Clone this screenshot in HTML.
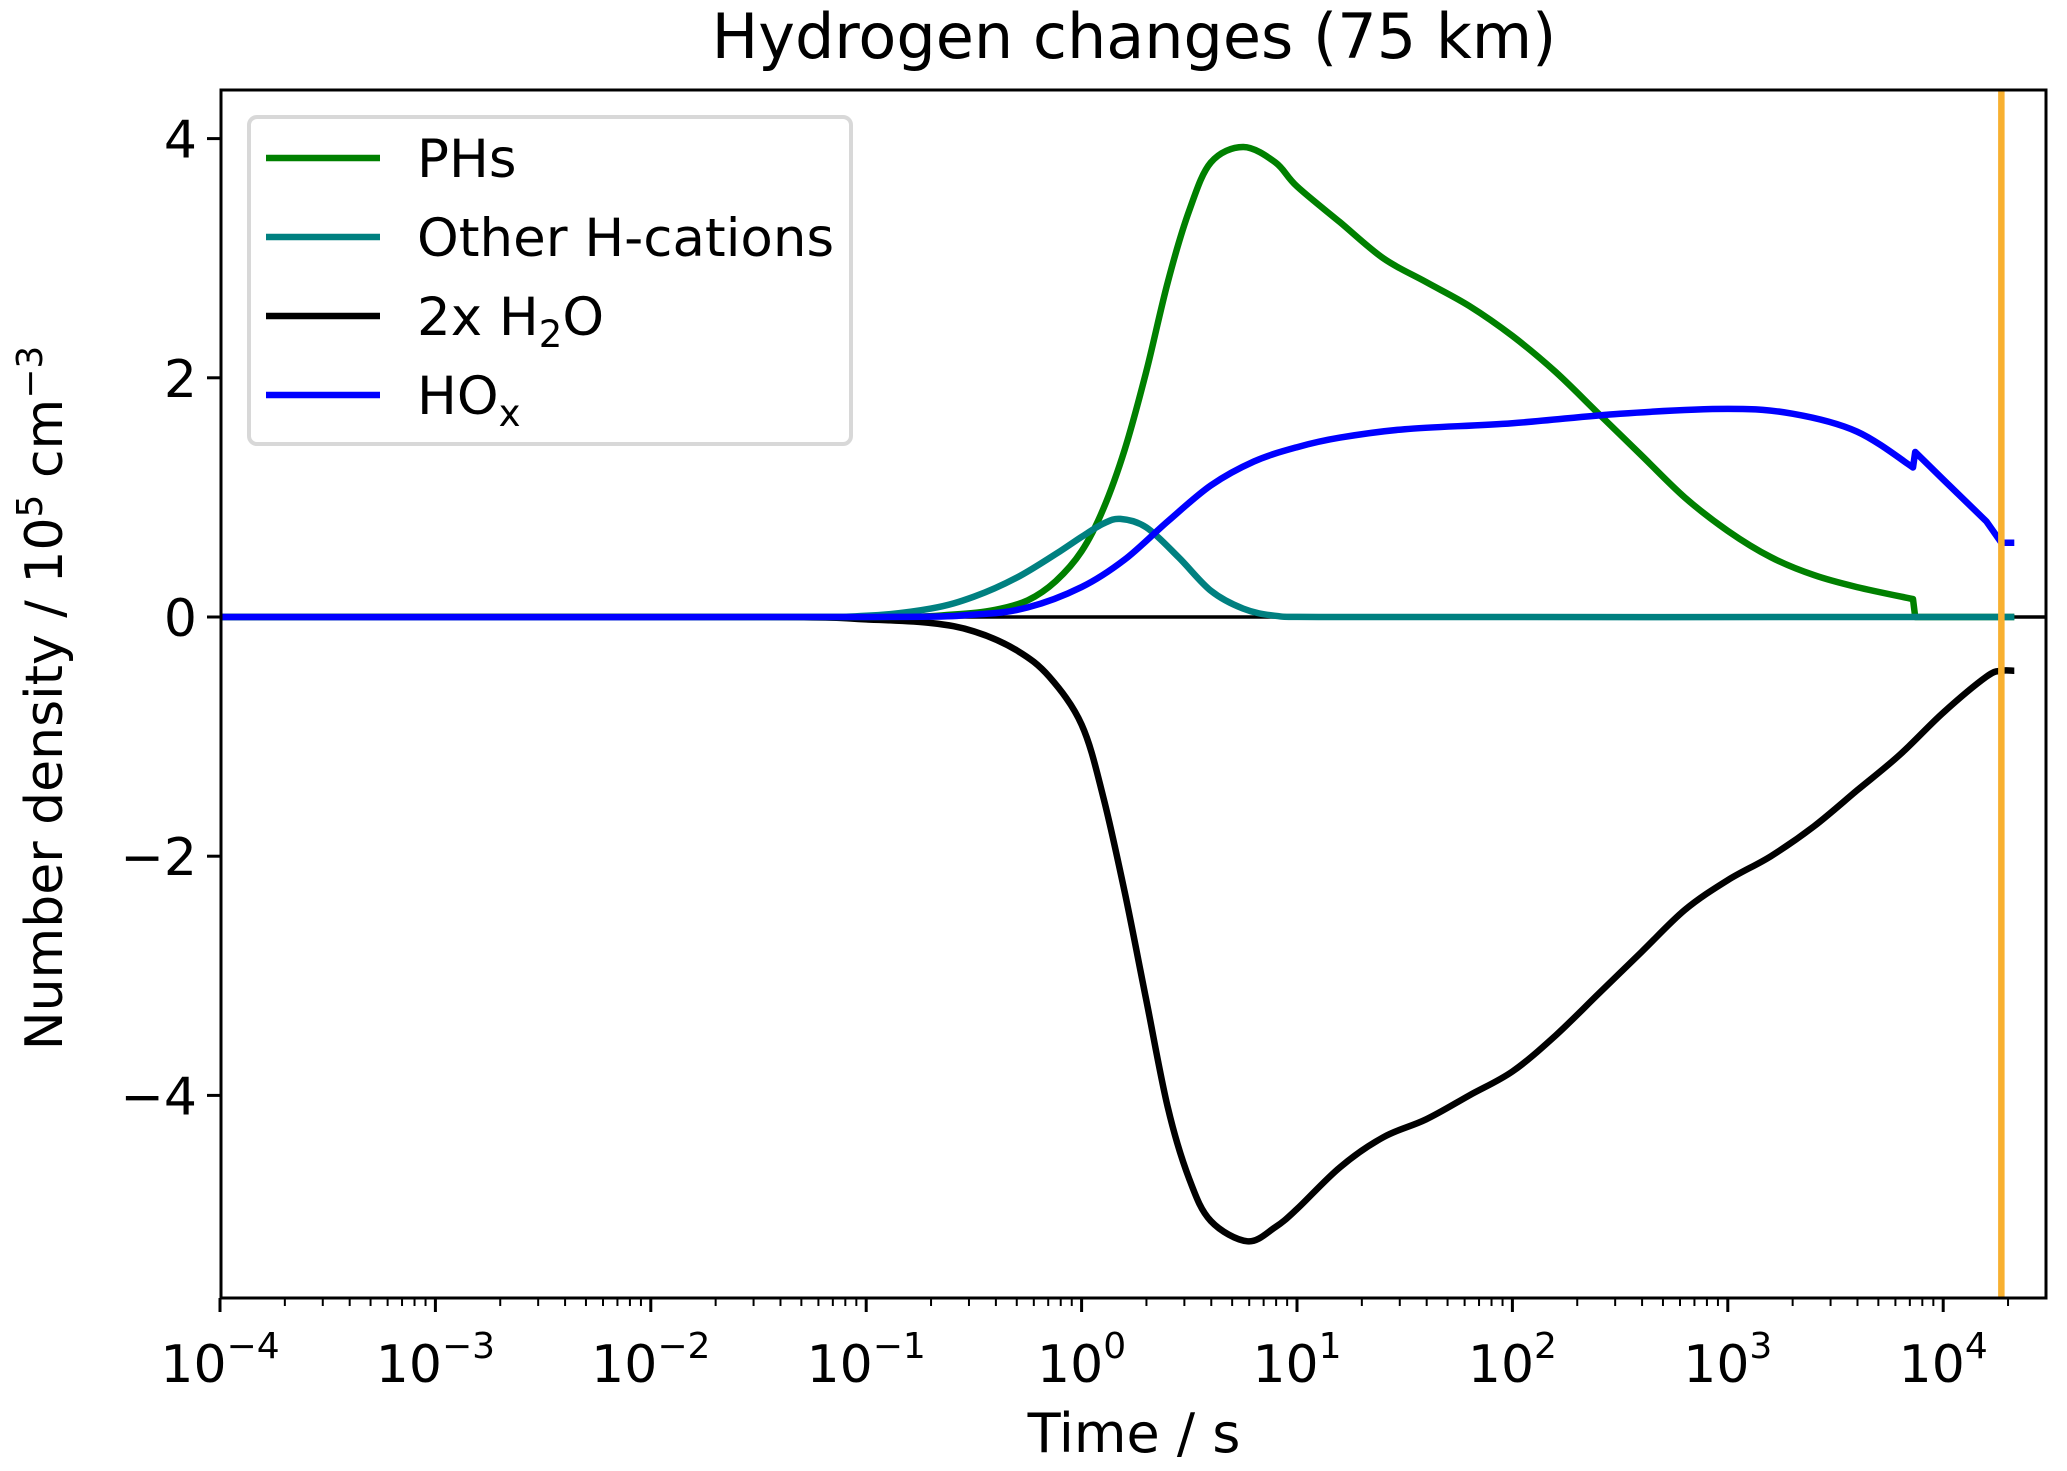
<!DOCTYPE html>
<html><head><meta charset="utf-8"><style>
body{margin:0;background:#fff}
svg{display:block;font-family:"DejaVu Sans","Liberation Sans",sans-serif}
</style></head><body>
<svg id="chart" width="2067" height="1471" viewBox="0 0 2067 1471">
<text x="1134" y="58" text-anchor="middle" font-size="62">Hydrogen changes (75 km)</text>
<g id="ticks"></g>
<g id="series"></g>
<rect x="221" y="90" width="1825" height="1208" fill="none" stroke="#000" stroke-width="3"/>
<text x="1134" y="1452" text-anchor="middle" font-size="54">Time / s</text>
<text transform="translate(62,698) rotate(-90)" text-anchor="middle" font-size="52">Number density / 10<tspan dy="-20" font-size="36">5</tspan><tspan dy="20"> cm</tspan><tspan dy="-20" font-size="36">−3</tspan></text>
<g>
<rect x="249" y="117" width="602" height="327" rx="8" fill="#fff" stroke="#d8d8d8" stroke-width="4"/>
<line x1="266" x2="380" y1="158" y2="158" stroke="#008000" stroke-width="6.5"/>
<text x="417" y="177" font-size="53">PHs</text>
<line x1="266" x2="380" y1="237" y2="237" stroke="#008080" stroke-width="6.5"/>
<text x="417" y="256" font-size="53">Other H-cations</text>
<line x1="266" x2="380" y1="316" y2="316" stroke="#000" stroke-width="6.5"/>
<text x="417" y="335" font-size="53">2x H<tspan dy="12" font-size="37">2</tspan><tspan dy="-12">O</tspan></text>
<line x1="266" x2="380" y1="395" y2="395" stroke="#0000ff" stroke-width="6.5"/>
<text x="417" y="414" font-size="53">HO<tspan dy="12" font-size="37">x</tspan></text>
</g>
</svg>
<script>
const xTickExps=[-4,-3,-2,-1,0,1,2,3,4];
const yTicks=[4,2,0,-2,-4];
const yTickLabels=["4","2","0","−2","−4"];
const orangeT=[4.27];
const phsLogT=[-4,-1,-0.6,-0.4,-0.25,-0.12,0,0.1,0.2,0.3,0.4,0.5,0.6,0.75,0.9,1.0,1.2,1.4,1.6,1.8,2.0,2.2,2.4,2.6,2.8,3.0,3.2,3.4,3.6,3.86];
const phsVal=[0,0,0.02,0.06,0.14,0.3,0.55,0.9,1.4,2.05,2.8,3.4,3.8,3.93,3.8,3.6,3.3,3.0,2.8,2.6,2.35,2.05,1.7,1.35,1.0,0.72,0.5,0.35,0.25,0.15];
const phsTailT=[3.86,3.87,4.33];
const phsTailV=[0.15,0,0];
const othLogT=[-4,-1.5,-1,-0.7,-0.5,-0.3,-0.1,0,0.1,0.18,0.3,0.45,0.6,0.75,0.9,1.1,4.33];
const othVal=[0,0,0.01,0.07,0.17,0.33,0.55,0.67,0.78,0.82,0.75,0.5,0.22,0.07,0.01,0,0];
const hoxLogT=[-4,-1,-0.5,-0.25,0,0.2,0.4,0.6,0.8,1.0,1.2,1.5,2.0,2.5,3.0,3.3,3.6,3.86];
const hoxVal=[0,0,0.02,0.08,0.25,0.48,0.8,1.1,1.3,1.42,1.5,1.57,1.62,1.7,1.74,1.7,1.55,1.25];
const hoxTailT=[3.87,4.0,4.2,4.27,4.33];
const hoxTailV=[1.38,1.15,0.8,0.62,0.62];
const h2oLogT=[-4,-1.5,-1,-0.7,-0.5,-0.3,-0.15,0,0.1,0.2,0.3,0.4,0.5,0.6,0.77,0.9,1.0,1.2,1.4,1.6,1.8,2.0,2.2,2.4,2.6,2.8,3.0,3.2,3.4,3.6,3.8,4.0,4.2,4.27,4.33];
const h2oVal=[0,0,-0.02,-0.05,-0.12,-0.28,-0.5,-0.9,-1.5,-2.3,-3.2,-4.1,-4.7,-5.05,-5.22,-5.1,-4.95,-4.6,-4.35,-4.2,-4.0,-3.8,-3.5,-3.15,-2.8,-2.45,-2.2,-2.0,-1.75,-1.45,-1.15,-0.8,-0.5,-0.45,-0.45];
const NS="http://www.w3.org/2000/svg";
const X=l=>220+(l+4)*215.4;
const Y=v=>617-v*119.6;
const tg=document.getElementById('ticks'),sg=document.getElementById('series');
function mk(tag,at,p){const e=document.createElementNS(NS,tag);for(const k in at)e.setAttribute(k,at[k]);p.appendChild(e);return e;}
for(const e of xTickExps){
 const l=mk('line',{x1:X(e),x2:X(e),y1:1298,y2:1312,stroke:'#000','stroke-width':3},tg);
 
 
 const t=mk('text',{x:X(e),y:1382,'text-anchor':'middle','font-size':52},tg);
 
 
 t.innerHTML='10<tspan dy="-24" font-size="36">'+(e<0?'−'+(-e):e)+'</tspan>';
 for(let k=2;k<10;k++){const lx=e+Math.log10(k);if(lx>4.38)break;
  const m=mk('line',{x1:X(lx),x2:X(lx),y1:1298,y2:1306,stroke:'#000','stroke-width':2},tg);
  
  }
}
yTicks.forEach((v,i)=>{
 const l=mk('line',{x1:207,x2:221,y1:Y(v),y2:Y(v),stroke:'#000','stroke-width':3},tg);
 
 
 const t=mk('text',{x:197,y:Y(v)+19,'text-anchor':'end','font-size':52},tg);
 
 
 t.textContent=yTickLabels[i];
});
const z=mk('line',{x1:221,x2:2046,y1:Y(0),y2:Y(0),stroke:'#000','stroke-width':3.5},sg);


function smoothD(xs,vs){
 const P=xs.map((l,i)=>[X(l),Y(vs[i])]);
 let d='M'+P[0][0].toFixed(1)+','+P[0][1].toFixed(1);
 for(let i=0;i<P.length-1;i++){
  const p0=P[Math.max(i-1,0)],p1=P[i],p2=P[i+1],p3=P[Math.min(i+2,P.length-1)];
  const c1=[p1[0]+(p2[0]-p0[0])/6,p1[1]+(p2[1]-p0[1])/6];
  const c2=[p2[0]-(p3[0]-p1[0])/6,p2[1]-(p3[1]-p1[1])/6];
  c1[0]=Math.min(Math.max(c1[0],p1[0]),p2[0]);c2[0]=Math.min(Math.max(c2[0],p1[0]),p2[0]);
  d+=' C'+c1.map(v=>v.toFixed(1))+' '+c2.map(v=>v.toFixed(1))+' '+p2.map(v=>v.toFixed(1));
 }
 return d;
}
function path(d,color,name){
 const p=mk('path',{d:d,fill:'none',stroke:color,'stroke-width':6.5,'stroke-linejoin':'round'},sg);
 
 
}
path(smoothD(h2oLogT,h2oVal),'#000','series-2x-h2o');
path(smoothD(phsLogT,phsVal)+' L'+phsTailT.map((l,i)=>X(l).toFixed(1)+','+Y(phsTailV[i]).toFixed(1)).join(' L'),'#008000','series-phs');
path(smoothD(othLogT,othVal),'#008080','series-other-h-cations');
path(smoothD(hoxLogT,hoxVal)+' L'+hoxTailT.map((l,i)=>X(l).toFixed(1)+','+Y(hoxTailV[i]).toFixed(1)).join(' L'),'#0000ff','series-hox');
for(const o of orangeT){
 const l=mk('line',{x1:X(o),x2:X(o),y1:90,y2:1298,stroke:'#f8b030','stroke-width':6.5},sg);
 
 
}
</script>
</body></html>
